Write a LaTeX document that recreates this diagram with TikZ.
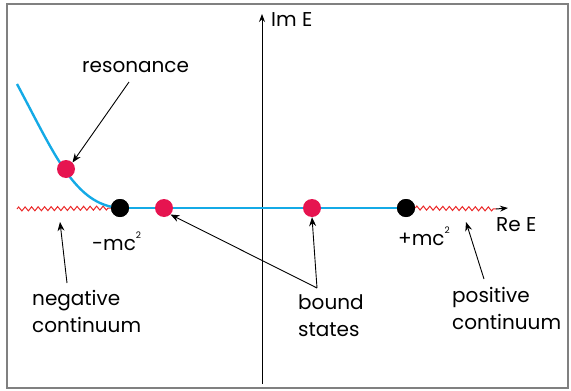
\documentclass[tikz,border=0pt]{standalone}
\usepackage{fontspec}
\setmainfont{Poppins}
\usetikzlibrary{arrows.meta,decorations.pathmorphing}
\definecolor{curveblue}{RGB}{20,170,230}
\definecolor{dotred}{RGB}{230,20,80}
\definecolor{wavered}{RGB}{235,40,40}
\newcommand{\sqsup}{\raisebox{1.1ex}{\fontsize{9}{9}\selectfont 2}}
\begin{document}
\begin{tikzpicture}[
  x=1pt, y=-1pt,
  font=\fontsize{20}{27}\selectfont,
  blackdot/.style={circle, fill=black, inner sep=0pt, minimum size=18pt},
  reddot/.style={circle, fill=dotred, inner sep=0pt, minimum size=18pt},
  lbl/.style={inner sep=0pt, align=left, anchor=west},
  pointer/.style={-{Stealth[length=9pt,width=7pt]}, line width=0.9pt},
  axis/.style={-{Stealth[length=8pt,width=6pt]}, line width=1pt},
  wavy/.style={wavered, line width=1pt, decorate, decoration={zigzag, segment length=6.5pt, amplitude=2pt}}
]
  \useasboundingbox (0,0) rectangle (571,391);
  \draw[gray, line width=1.6pt] (7,4) rectangle (568,388);

  % Ejes
  \coordinate (imlo) at (262,384);
  \coordinate (imhi) at (262,14);
  \coordinate (rehi) at (508,208);
  \draw[axis] (imlo) -- (imhi);
  \node[lbl] (imE) at (271,20) {Im E};
  \node[lbl] (reE) at (496,225) {Re E};

  % Puntos del espectro
  \node[blackdot] (mneg) at (120,208) {};
  \node[blackdot] (mpos) at (406,208) {};
  \coordinate (wl) at (17,209);
  \coordinate (wr) at (496,209);
  \coordinate (cstart) at (17,84);

  % Continuos y curva de resonancia
  \draw[wavy] (wl) -- (mneg.west);
  \draw[wavy] (mpos.east) -- (wr);
  \draw[axis] (wr) -- (rehi);
  \draw[curveblue, line width=2.4pt] (cstart) .. controls (55,155) and (75,205) .. (mneg.center);
  \draw[curveblue, line width=2.4pt] (mneg.center) -- (mpos.center);
  \node[blackdot] at (mneg) {};
  \node[blackdot] at (mpos) {};

  \node[reddot] (res) at (66,169) {};
  \node[reddot] (bs1) at (164,208) {};
  \node[reddot] (bs2) at (312,208) {};

  % Etiquetas
  \node[lbl] (mnegl) at (92,241) {-mc\sqsup};
  \node[lbl] (mposl) at (398,236) {+mc\sqsup};
  \node[lbl] (resl) at (82,67) {resonance};
  \node[lbl] (negl) at (32,311) {negative\\continuum};
  \node[lbl] (bndl) at (298,316) {bound\\states};
  \node[lbl] (posl) at (452,308) {positive\\continuum};

  % Flechas
  \coordinate (resa) at (129,82);
  \coordinate (nega) at (67,283);
  \coordinate (bnda) at (317,288);
  \coordinate (posa) at (484,279);
  \draw[pointer] (resa) -- (res.north east);
  \draw[pointer] (nega) -- (60,222);
  \draw[pointer] (bnda) -- (bs1.south east);
  \draw[pointer] (bnda) -- (bs2.south);
  \draw[pointer] (posa) -- (466,222);
\end{tikzpicture}
\end{document}
